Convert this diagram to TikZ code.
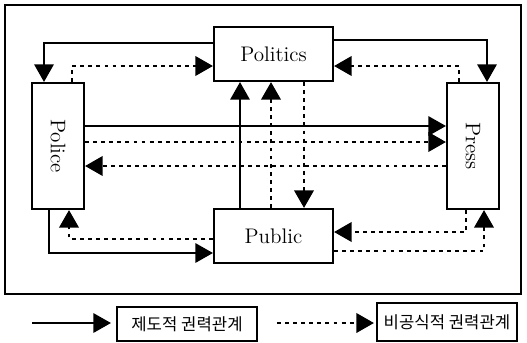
\documentclass[tikz,border=0pt]{standalone}
\usepackage{fontspec}
\usepackage{graphicx}
\newfontfamily\krfont{Noto Sans CJK KR}
\usetikzlibrary{arrows.meta,calc}

\begin{document}
\begin{tikzpicture}[
  x=0.02cm,y=-0.02cm,
  box/.style={rectangle,draw,line width=1.2pt,inner sep=0pt,font=\fontsize{12}{14}\selectfont},
  wide/.style={box,minimum width=2.38cm,minimum height=1.08cm},
  tall/.style={box,minimum width=1.04cm,minimum height=2.52cm},
  key/.style={rectangle,draw,line width=1.2pt,inner sep=0pt,minimum width=2.8cm,font=\krfont\fontsize{9.5}{11}\selectfont},
  sol/.style={-{Triangle[length=10pt,width=11pt]},line width=1.2pt},
  dot/.style={-{Triangle[length=10pt,width=11pt]},line width=1.5pt,dash pattern=on 2.2pt off 2.4pt}
]
  \useasboundingbox (0,0) rectangle (527,342);
  % ---------------- frame ----------------
  \draw[line width=1.2pt] (5,5) rectangle (521,294);
  % ---------------- actors ----------------
  \node[wide] (politics) at (273.5,54) {Politics};
  \node[wide] (public) at (273.5,236) {Public};
  \node[tall] (police) at (58,146) {\rotatebox{-90}{Police}};
  \node[tall] (press) at (473,146) {\rotatebox{-90}{Press}};
  % ---------------- top ----------------
  \draw[sol] ($(politics.west)+(0,-11)$) -| ($(police.north)+(-14,0)$);
  \draw[dot] ($(police.north)+(14,0)$) |- ($(politics.west)+(0,12)$);
  \draw[sol] ($(politics.east)+(0,-14)$) -| ($(press.north)+(14,0)$);
  \draw[dot] ($(press.north)+(-14,0)$) |- ($(politics.east)+(0,12)$);
  % ---------------- middle ----------------
  \draw[sol] ($(police.east)+(0,-20)$) -- ($(press.west)+(0,-20)$);
  \draw[dot] ($(police.east)+(0,-4)$) -- ($(press.west)+(0,-4)$);
  \draw[dot] ($(press.west)+(0,20)$) -- ($(police.east)+(0,20)$);
  \draw[sol] ($(public.north)+(-33.5,0)$) -- ($(politics.south)+(-33.5,0)$);
  \draw[dot] ($(public.north)+(-2.5,0)$) -- ($(politics.south)+(-2.5,0)$);
  \draw[dot] ($(politics.south)+(30.5,0)$) -- ($(public.north)+(30.5,0)$);
  % ---------------- bottom ----------------
  \draw[dot] ($(public.west)+(0,3)$) -| ($(police.south)+(11,0)$);
  \draw[sol] ($(police.south)+(-9,0)$) |- ($(public.west)+(0,17)$);
  \draw[dot] ($(press.south)+(-7,0)$) |- ($(public.east)+(0,-4)$);
  \draw[dot] ($(public.east)+(0,15)$) -| ($(press.south)+(11,0)$);
  % ---------------- legend ----------------
  \node[key,minimum height=0.68cm] (formal) at (187,324) {제도적 권력관계};
  \node[key,minimum height=0.76cm] (informal) at (447,322) {비공식적 권력관계};
  \coordinate (formalTail) at (32,323);
  \coordinate (informalTail) at (277,323);
  \draw[sol,shorten >=0.1cm] (formalTail) -- (formalTail -| formal.west);
  \draw[dot,shorten >=0.04cm] (informalTail) -- (informalTail -| informal.west);
\end{tikzpicture}
\end{document}
